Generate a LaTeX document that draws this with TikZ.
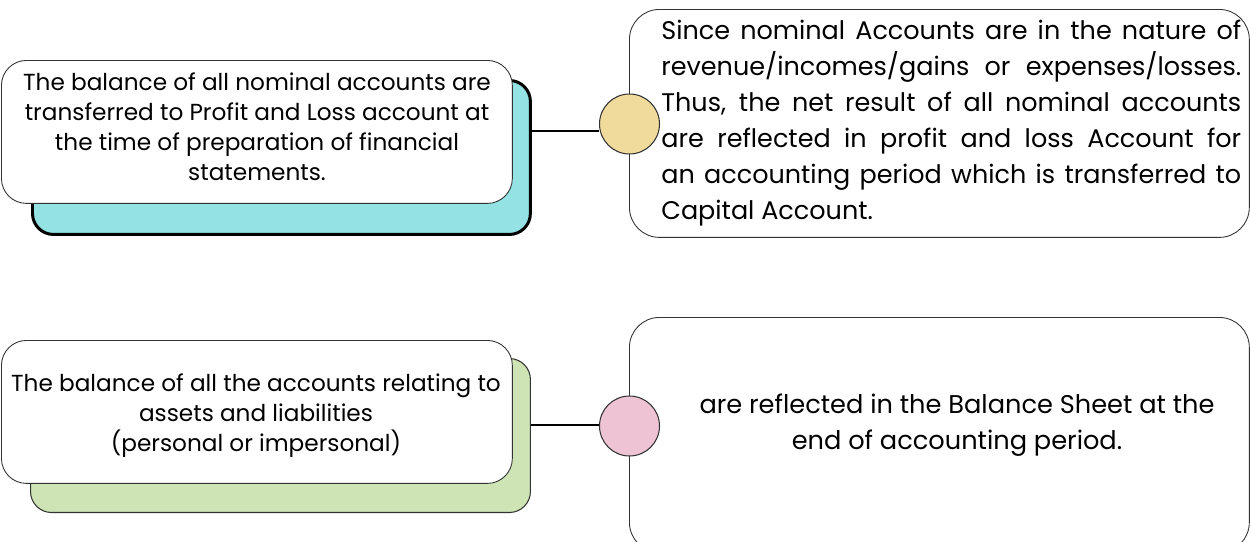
\documentclass[tikz,border=0pt]{standalone}
\usepackage{fontspec}
\setmainfont{Poppins}
\usetikzlibrary{positioning}
\definecolor{tealfill}{HTML}{94E2E3}
\definecolor{sagefill}{HTML}{CFE4B5}
\definecolor{sandfill}{HTML}{F0DB9C}
\definecolor{rosefill}{HTML}{EEC3D3}
\definecolor{edgegray}{HTML}{333333}
\tikzset{
	backcard/.style={draw,rounded corners=0.42cm,anchor=north west,inner sep=0pt},
	frontcard/.style={draw=edgegray,line width=0.5pt,fill=white,rounded corners=0.5cm,anchor=north west,inner sep=0pt},
	notecard/.style={draw=edgegray,line width=0.5pt,rounded corners=0.6cm,anchor=north west,inner sep=0pt},
	dot/.style={circle,draw=edgegray,line width=0.6pt,minimum size=1.2cm,inner sep=0pt},
	link/.style={line width=0.9pt},
	cardtext/.style={align=center,font=\fontsize{13.2}{17}\selectfont,inner sep=0pt},
}
\begin{document}
\begin{tikzpicture}[x=0.02cm,y=-0.02cm]
	\useasboundingbox (0,0) rectangle (1251,541);

	% first row
	\node[backcard,fill=tealfill,line width=1.7pt,minimum width=9.96cm,minimum height=3.08cm] (shadowA) at (31,79) {};
	\node[frontcard,minimum width=10.22cm,minimum height=2.86cm] (cardA) at (1,60) {};
	\node[cardtext] (textA) at (257,127) {The balance of all nominal accounts are\\transferred to Profit and Loss account at\\the time of preparation of financial\\statements.};
	\node[notecard,minimum width=12.4cm,minimum height=4.56cm] (noteA) at (629,9) {};
	\node[anchor=west,inner sep=0pt,text width=11.6cm,align=justify,font=\fontsize{14.5}{20.5}\selectfont] (textB) at (661,123)
		{Since nominal Accounts are in the nature of\linebreak revenue/incomes/gains or expenses/losses.\linebreak Thus, the net result of all nominal accounts\linebreak are reflected in profit and loss Account for\linebreak an accounting period which is transferred to\linebreak Capital Account.};
	\node[dot,fill=sandfill] (dotA) at (629.5,124) {};
	\draw[link] (dotA.west |- 0,131) -- (shadowA.east |- 0,131);

	% second row
	\node[backcard,fill=sagefill,draw=edgegray,line width=0.6pt,minimum width=10cm,minimum height=3.08cm] (shadowB) at (30,358) {};
	\node[frontcard,minimum width=10.22cm,minimum height=2.86cm] (cardB) at (1,340) {};
	\node[cardtext] (textC) at (256,416) {The balance of all the accounts relating to\\assets and liabilities\\(personal or impersonal)};
	\node[notecard,minimum width=12.4cm,minimum height=4.7cm] (noteB) at (629,317) {};
	\node[align=center,inner sep=0pt,font=\fontsize{14.6}{20.5}\selectfont] (textD) at (957,425)
		{are reflected in the Balance Sheet at the\\end of accounting period.};
	\node[dot,fill=rosefill] (dotB) at (629.5,426) {};
	\draw[link] (dotB.west |- 0,425) -- (shadowB.east |- 0,425);
\end{tikzpicture}
\end{document}
